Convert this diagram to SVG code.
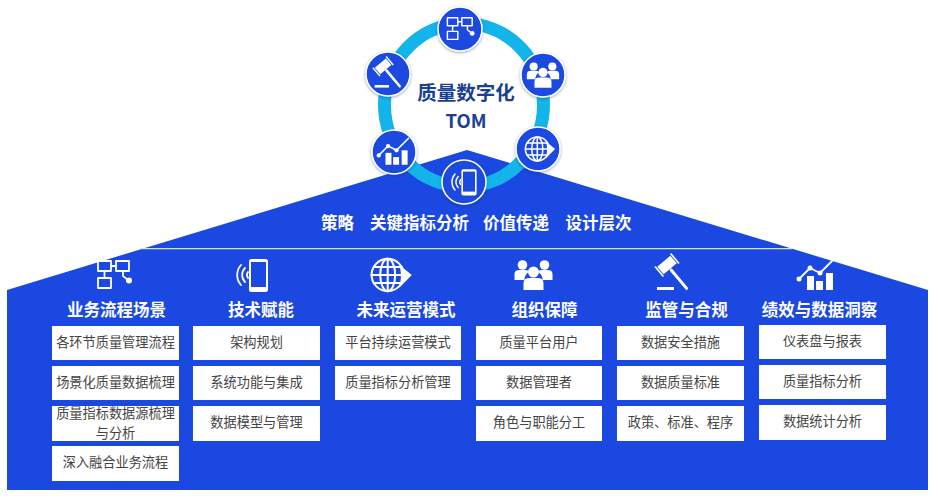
<svg xmlns="http://www.w3.org/2000/svg" width="938" height="500" viewBox="0 0 938 500">
<style>
text{font-family:"Noto Sans CJK SC","Liberation Sans",sans-serif;text-anchor:middle}
.h{font-size:16.5px;font-weight:700;fill:#fff}
.s{font-size:16.5px;font-weight:700;fill:#fff}
.b{fill:#fff}
.t{font-size:13.200px;fill:#444}
.c{fill:#1a48e0;stroke:#fff;stroke-width:1.5;filter:url(#sh)}
.o{fill:none;stroke:#fff;stroke-width:1.8;stroke-linecap:round;stroke-linejoin:round}
.w{fill:#fff}
.a{fill:#1a48e0;stroke:none}
</style>
<defs>
<filter id="sh" x="-30%" y="-30%" width="160%" height="160%"><feDropShadow dx="0" dy="1" stdDeviation="1.6" flood-color="#0a2a7a" flood-opacity=".45"/></filter>
<g id="i-flow"><rect class="o" x="-17" y="-14" width="13" height="10"/><rect class="o" x="1" y="-14" width="13" height="10"/><rect class="o" x="-17" y="3" width="13" height="10"/><path class="o" d="M-4-9H1M-10.500-4V3M8-4V1L13 5"/><circle class="w" cx="14" cy="5.500" r="3"/></g>
<g id="i-phone"><rect class="w" x="-7" y="-16" width="19" height="33" rx="2.500"/><rect class="a" x="-5" y="-13" width="15" height="25"/><path class="o" d="M-11-7a10 10 0 0 0 0 14M-15-10a15 15 0 0 0 0 20M-8-3a5 5 0 0 0 0 6"/></g>
<g id="i-globe"><circle class="o" cx="-2" cy="0" r="14"/><ellipse class="o" cx="-2" cy="0" rx="6.500" ry="14"/><path class="o" d="M-2-14V14M-16 0H12M-14-7H10M-14 7H10"/><path class="w" d="M8-9 19 0 8 11C10 4 10-3 8-9Z"/></g>
<g id="i-people"><circle class="w" cx="-11" cy="-10" r="4.800"/><circle class="w" cx="11" cy="-10" r="4.800"/><path class="w" d="M-19 5V-1Q-19-5-14-5H-8Q-5-5-5-3-9 0-9 5ZM19 5V-1Q19-5 14-5H8Q5-5 5-3 9 0 9 5Z"/><circle class="w" cx="0" cy="-3" r="5.500"/><path class="w" d="M-10 15V8Q-10 3-4 3H4Q10 3 10 8V15Z"/></g>
<g id="i-gavel"><g transform="translate(-7 -9) rotate(50)"><rect class="w" x="-5" y="-8.500" width="10" height="17"/><rect class="w" x="-6.500" y="-11" width="13" height="1.700"/><rect class="w" x="-6.500" y="9.300" width="13" height="1.700"/><rect class="w" x="5" y="-1.500" width="27" height="3" rx="1.500"/></g><rect class="w" x="-17" y="13" width="17" height="3"/></g>
<g id="i-chart"><rect class="w" x="-10" y="1" width="7" height="14"/><rect class="w" x="-1" y="6" width="7" height="9"/><rect class="w" x="9" y="-2" width="7" height="17"/><path class="o" d="M-18 4-7-7 3-2 17-16"/><circle class="w" cx="-18" cy="4" r="2.500"/><circle class="w" cx="-7" cy="-7" r="2.500"/><circle class="w" cx="3" cy="-2" r="2.500"/></g>
</defs>
<rect width="938" height="500" fill="#fff"/>
<g id="house">
<polygon points="7,290 467,150 928,290 928,490 7,490" fill="#1a48e0"/>
<path d="M140 248.700H792" stroke="#d6e0fb" stroke-width="1.200"/>
<g id="strategy"><text class="s" x="337.500" y="229">策略</text><text class="s" x="419.500" y="229">关键指标分析</text><text class="s" x="516" y="229">价值传递</text><text class="s" x="598.500" y="229">设计层次</text></g>
</g>
<g id="connectors"><ellipse cx="464" cy="105" rx="79.500" ry="81.500" fill="none" stroke="#12b4ea" stroke-width="13"/></g>
<g id="hub">
<text x="466" y="100" font-size="19.500" font-weight="700" fill="#1b3f92">质量数字化</text>
<text x="466" y="128" font-size="18.500" font-weight="700" fill="#1b3f92">TOM</text>
</g>
<g id="hub-flow"><circle class="c" cx="460" cy="29" r="22"/><use href="#i-flow" transform="translate(461 29) scale(.8)"/></g>
<g id="hub-people"><circle class="c" cx="543" cy="75" r="22"/><use href="#i-people" transform="translate(543 75) scale(.85)"/></g>
<g id="hub-globe"><circle class="c" cx="538" cy="149" r="22"/><use href="#i-globe" transform="translate(539 149) scale(.85)"/></g>
<g id="hub-phone"><circle class="c" cx="464" cy="182" r="22"/><use href="#i-phone" transform="translate(467 182) scale(.8)"/></g>
<g id="hub-chart"><circle class="c" cx="394" cy="152" r="22"/><use href="#i-chart" transform="translate(394 152) scale(.85)"/></g>
<g id="hub-gavel"><circle class="c" cx="388" cy="74" r="22"/><use href="#i-gavel" transform="translate(389 74) scale(.85)"/></g>
<g id="col-1">
<use href="#i-flow" transform="translate(115 275)"/>
<text class="h" x="116.500" y="316">业务流程场景</text>
<rect class="b" x="52" y="326" width="127" height="34"/><text class="t" x="115.500" y="347">各环节质量管理流程</text>
<rect class="b" x="52" y="366" width="127" height="34"/><text class="t" x="115.500" y="387">场景化质量数据梳理</text>
<rect class="b" x="52" y="406" width="127" height="35"/><text class="t" x="115.500" y="418">质量指标数据源梳理</text><text class="t" x="115.500" y="437.500">与分析</text>
<rect class="b" x="52" y="446" width="127" height="35"/><text class="t" x="115.500" y="467">深入融合业务流程</text>
</g>
<g id="col-2">
<use href="#i-phone" transform="translate(256 275)"/>
<text class="h" x="261" y="316">技术赋能</text>
<rect class="b" x="193" y="326" width="127" height="34"/><text class="t" x="256.500" y="347">架构规划</text>
<rect class="b" x="193" y="366" width="127" height="34"/><text class="t" x="256.500" y="387">系统功能与集成</text>
<rect class="b" x="193" y="406" width="127" height="35"/><text class="t" x="256.500" y="427">数据模型与管理</text>
</g>
<g id="col-3">
<use href="#i-globe" transform="translate(390 275) scale(1.150)"/>
<text class="h" x="406" y="316">未来运营模式</text>
<rect class="b" x="335" y="326" width="126" height="34"/><text class="t" x="398" y="347">平台持续运营模式</text>
<rect class="b" x="335" y="366" width="126" height="34"/><text class="t" x="398" y="387">质量指标分析管理</text>
</g>
<g id="col-4">
<use href="#i-people" transform="translate(533.500 275)"/>
<text class="h" x="544.500" y="316">组织保障</text>
<rect class="b" x="476" y="326" width="126" height="34"/><text class="t" x="539" y="347">质量平台用户</text>
<rect class="b" x="476" y="366" width="126" height="34"/><text class="t" x="539" y="387">数据管理者</text>
<rect class="b" x="476" y="406" width="126" height="35"/><text class="t" x="539" y="427">角色与职能分工</text>
</g>
<g id="col-5">
<use href="#i-gavel" transform="translate(674 274)"/>
<text class="h" x="686.500" y="316">监管与合规</text>
<rect class="b" x="617" y="326" width="127" height="34"/><text class="t" x="680.500" y="347">数据安全措施</text>
<rect class="b" x="617" y="366" width="127" height="34"/><text class="t" x="680.500" y="387">数据质量标准</text>
<rect class="b" x="617" y="406" width="127" height="35"/><text class="t" x="680.500" y="427">政策、标准、程序</text>
</g>
<g id="col-6">
<use href="#i-chart" transform="translate(817 275)"/>
<text class="h" x="819.500" y="316">绩效与数据洞察</text>
<rect class="b" x="759" y="325" width="127" height="34"/><text class="t" x="822.500" y="346">仪表盘与报表</text>
<rect class="b" x="759" y="365" width="127" height="34"/><text class="t" x="822.500" y="386">质量指标分析</text>
<rect class="b" x="759" y="405" width="127" height="35"/><text class="t" x="822.500" y="426">数据统计分析</text>
</g>
</svg>
